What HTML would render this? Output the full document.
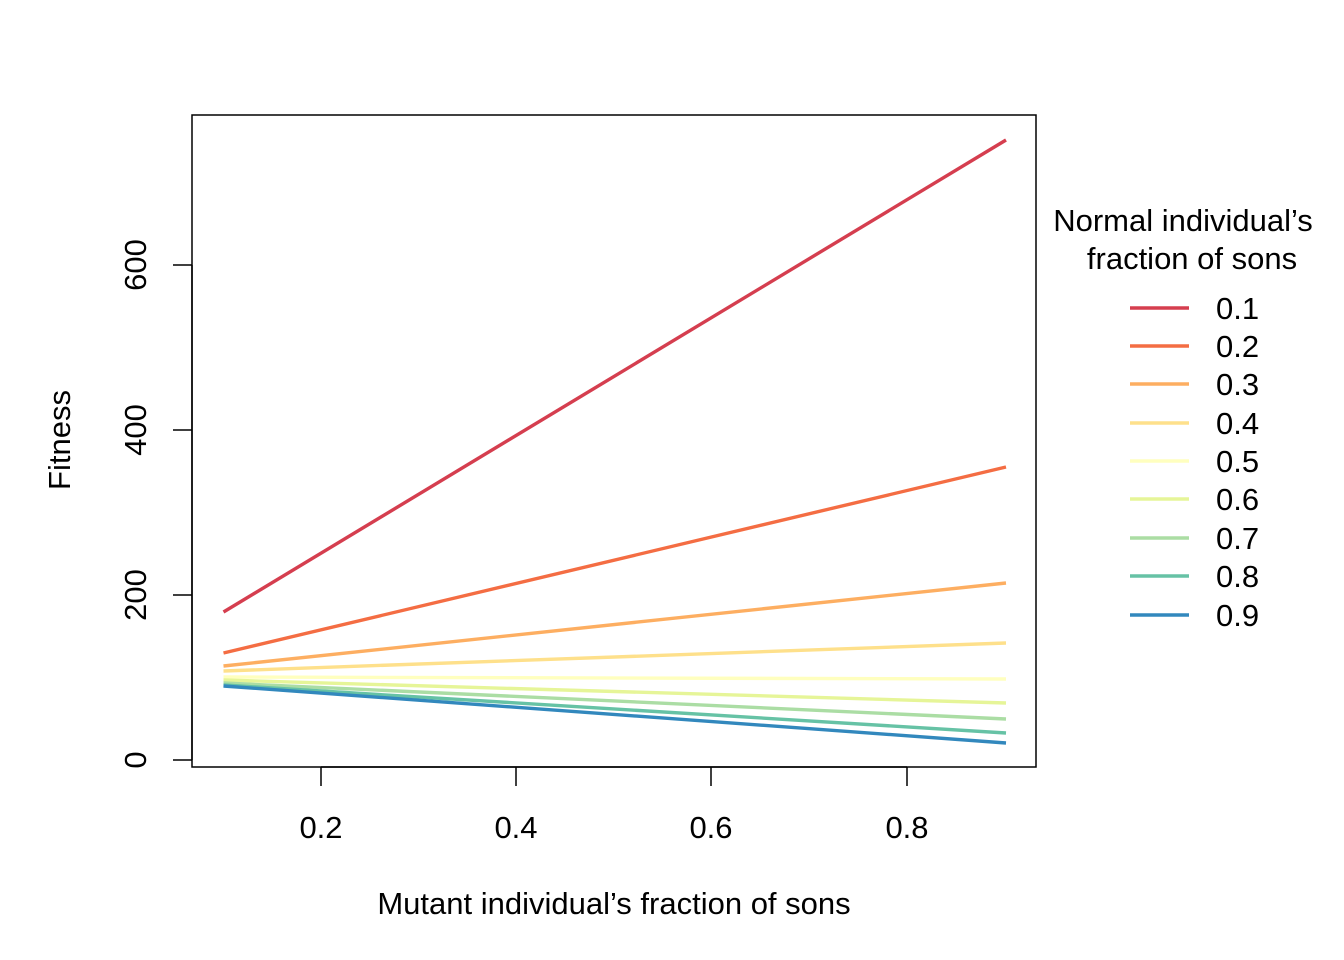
<!DOCTYPE html>
<html><head><meta charset="utf-8"><style>body{margin:0;background:#fff}svg{display:block}text{font-family:"Liberation Sans",sans-serif;fill:#000}</style></head>
<body>
<svg width="1344" height="960" viewBox="0 0 1344 960">
<rect x="192" y="115" width="844" height="652" fill="none" stroke="#000" stroke-width="1.5"/>
<g stroke="#000" stroke-width="1.5">
<line x1="321" y1="767" x2="907" y2="767"/>
<line x1="321" y1="767" x2="321" y2="786"/><line x1="516" y1="767" x2="516" y2="786"/><line x1="711" y1="767" x2="711" y2="786"/><line x1="907" y1="767" x2="907" y2="786"/>
<line x1="192" y1="265" x2="192" y2="760"/>
<line x1="173" y1="760" x2="192" y2="760"/><line x1="173" y1="595" x2="192" y2="595"/><line x1="173" y1="430" x2="192" y2="430"/><line x1="173" y1="265" x2="192" y2="265"/>
</g>
<g font-size="31" text-anchor="middle">
<text x="321" y="838">0.2</text><text x="516" y="838">0.4</text><text x="711" y="838">0.6</text><text x="907" y="838">0.8</text>
<text transform="translate(146,760) rotate(-90)">0</text>
<text transform="translate(146,595) rotate(-90)">200</text>
<text transform="translate(146,430) rotate(-90)">400</text>
<text transform="translate(146,265) rotate(-90)">600</text>
<text x="614" y="914">Mutant individual’s fraction of sons</text>
<text transform="translate(70,440) rotate(-90)">Fitness</text>
<text x="1183" y="231">Normal individual’s</text>
<text x="1192" y="269">fraction of sons</text>
</g>
<g stroke-width="3.4" fill="none">
<line x1="223.5" y1="612" x2="1006" y2="140" stroke="#D53E4F"/>
<line x1="223.5" y1="653" x2="1006" y2="467" stroke="#F46D43"/>
<line x1="223.5" y1="666" x2="1006" y2="583" stroke="#FDAE61"/>
<line x1="223.5" y1="671" x2="1006" y2="643" stroke="#FEE08B"/>
<line x1="223.5" y1="677" x2="1006" y2="679" stroke="#FFFFBF"/>
<line x1="223.5" y1="680" x2="1006" y2="703" stroke="#E6F598"/>
<line x1="223.5" y1="683" x2="1006" y2="719" stroke="#ABDDA4"/>
<line x1="223.5" y1="685" x2="1006" y2="733" stroke="#66C2A5"/>
<line x1="223.5" y1="686" x2="1006" y2="743" stroke="#3288BD"/>
</g>
<g stroke-width="3.4">
<line x1="1130" x2="1189" y1="308" y2="308" stroke="#D53E4F"/>
<line x1="1130" x2="1189" y1="346" y2="346" stroke="#F46D43"/>
<line x1="1130" x2="1189" y1="384" y2="384" stroke="#FDAE61"/>
<line x1="1130" x2="1189" y1="423" y2="423" stroke="#FEE08B"/>
<line x1="1130" x2="1189" y1="461" y2="461" stroke="#FFFFBF"/>
<line x1="1130" x2="1189" y1="499" y2="499" stroke="#E6F598"/>
<line x1="1130" x2="1189" y1="538" y2="538" stroke="#ABDDA4"/>
<line x1="1130" x2="1189" y1="576" y2="576" stroke="#66C2A5"/>
<line x1="1130" x2="1189" y1="615" y2="615" stroke="#3288BD"/>
</g>
<g font-size="31">
<text x="1216" y="319">0.1</text><text x="1216" y="357">0.2</text><text x="1216" y="395">0.3</text>
<text x="1216" y="434">0.4</text><text x="1216" y="472">0.5</text><text x="1216" y="510">0.6</text>
<text x="1216" y="549">0.7</text><text x="1216" y="587">0.8</text><text x="1216" y="626">0.9</text>
</g>
</svg>
</body></html>
